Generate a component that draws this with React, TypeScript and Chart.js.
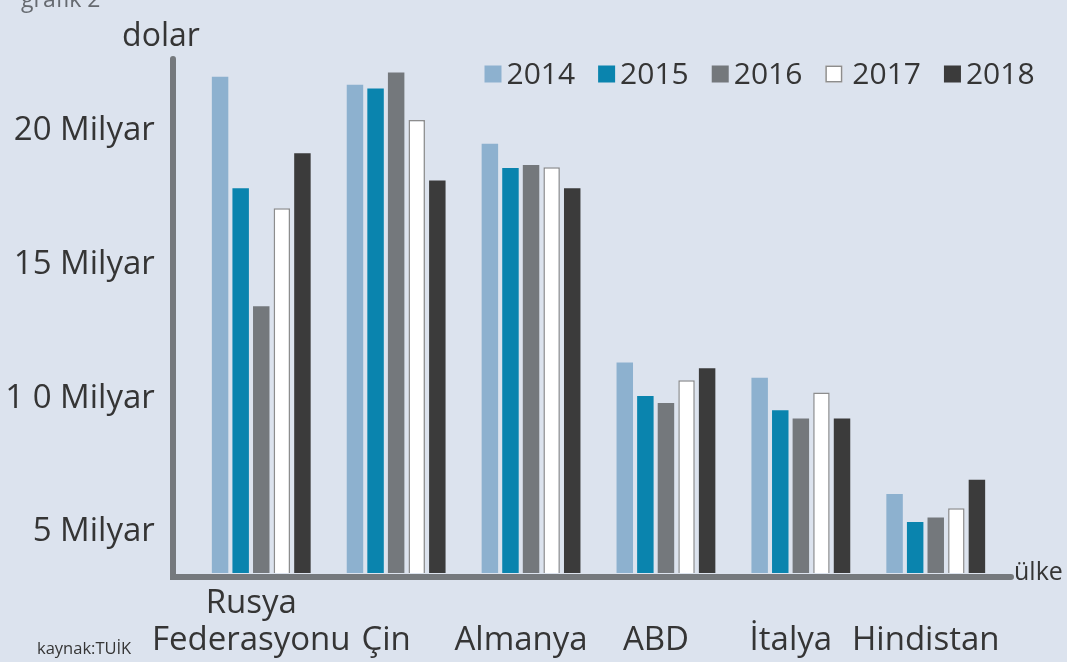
import React, { useEffect, useRef } from "react";
import { Chart, registerables } from "chart.js";

Chart.register(...registerables);

// ---- data ----
const categories: string[][] = [
  ["Rusya", "Federasyonu"],
  ["", "Çin"],
  ["", "Almanya"],
  ["", "ABD"],
  ["", "İtalya"],
  ["", "Hindistan"],
];
const years = ["2014", "2015", "2016", "2017", "2018"];
const values2014 = [22.03, 21.73, 19.52, 11.34, 10.77, 6.42];
const values2015 = [17.86, 21.59, 18.62, 10.09, 9.56, 5.38];
const values2016 = [13.45, 22.19, 18.73, 9.83, 9.25, 5.55];
const values2017 = [17.11, 20.41, 18.64, 10.68, 10.22, 5.89];
const values2018 = [19.17, 18.15, 17.86, 11.13, 9.25, 6.96];
const yTickValues = [5, 10, 15, 20];
const yTickLabels = ["5 Milyar", "1 0 Milyar", "15 Milyar", "20 Milyar"];
const yAxisTitle = "dolar";
const xAxisTitle = "ülke";
const chartCaption = "grafik 2";
const sourceNote = "kaynak:TUİK";

// ---- styles ----
const seriesValues = [values2014, values2015, values2016, values2017, values2018];
const seriesColors = ["#8db1cf", "#0a84ae", "#74787c", "#ffffff", "#3b3b3b"];
const seriesBorders = ["#8db1cf", "#0a84ae", "#74787c", "#8d8d8d", "#3b3b3b"];
const seriesBorderWidths = [0, 0, 0, 1.5, 0];
const BG = "#dce3ee";
const AXIS = "#75797d";
const TEXT = "#353535";
const FONT = "'Open Sans', sans-serif";

const decor = {
  id: "decor",
  beforeDraw(chart: any) {
    const { ctx, width, height } = chart;
    ctx.save();
    ctx.fillStyle = BG;
    ctx.fillRect(0, 0, width, height);
    ctx.restore();
  },
  afterDatasetsDraw(chart: any) {
    const { ctx } = chart;
    ctx.save();
    ctx.strokeStyle = AXIS;
    ctx.lineWidth = 6;
    ctx.lineCap = "round";
    ctx.beginPath();
    ctx.moveTo(173, 59);
    ctx.lineTo(173, 577);
    ctx.lineTo(1011, 577);
    ctx.stroke();
    ctx.restore();
  },
  afterDraw(chart: any) {
    const { ctx } = chart;
    ctx.save();
    ctx.textBaseline = "alphabetic";
    // caption (cut at top)
    ctx.fillStyle = "#666a70";
    ctx.font = `23px ${FONT}`;
    ctx.textAlign = "left";
    ctx.fillText(chartCaption, 21, 7);
    // y title
    ctx.fillStyle = TEXT;
    ctx.font = `32px ${FONT}`;
    ctx.textAlign = "center";
    ctx.fillText(yAxisTitle, 161, 46);
    // x title
    ctx.font = `25px ${FONT}`;
    ctx.textAlign = "left";
    ctx.fillText(xAxisTitle, 1014, 580);
    // source
    ctx.font = `16.5px ${FONT}`;
    ctx.fillText(sourceNote, 37, 654);
    // legend
    ctx.font = `30px ${FONT}`;
    ctx.textBaseline = "middle";
    let x = 484.5;
    const cy = 74;
    const sq = 17;
    chart.data.datasets.forEach((ds: any, i: number) => {
      ctx.fillStyle = seriesColors[i];
      ctx.fillRect(x, cy - sq / 2, sq, sq);
      if (seriesBorderWidths[i] > 0) {
        ctx.strokeStyle = seriesBorders[i];
        ctx.lineWidth = 1.5;
        ctx.strokeRect(x + 0.75, cy - sq / 2 + 0.75, sq - 1.5, sq - 1.5);
      }
      const tx = x + sq + (seriesBorderWidths[i] > 0 ? 10 : 5);
      ctx.fillStyle = TEXT;
      ctx.fillText(ds.label, tx, cy + 1);
      x = tx + ctx.measureText(ds.label).width + 23;
    });
    ctx.restore();
  },
};

export default function App() {
  const ref = useRef<HTMLCanvasElement | null>(null);
  useEffect(() => {
    if (!ref.current) return;
    const chart = new Chart(ref.current, {
      type: "bar",
      data: {
        labels: categories as any,
        datasets: years.map((y, i) => ({
          label: y,
          data: seriesValues[i],
          backgroundColor: seriesColors[i],
          borderColor: seriesBorders[i],
          borderWidth: seriesBorderWidths[i],
          borderSkipped: "bottom",
          categoryPercentage: 0.763,
          barPercentage: 0.8,
        })),
      },
      options: {
        responsive: false,
        animation: false,
        events: [],
        layout: { padding: { top: 58, right: 63.8, left: 0, bottom: 0 } },
        plugins: { legend: { display: false }, tooltip: { enabled: false } },
        scales: {
          x: {
            grid: { display: false, drawTicks: false },
            border: { display: false },
            ticks: {
              font: { family: FONT, size: 33, lineHeight: 1.12 },
              color: TEXT,
              padding: 12,
              labelOffset: -10,
              maxRotation: 0,
              minRotation: 0,
              autoSkip: false,
            },
            afterFit: (s: any) => {
              s.height = 89;
            },
          },
          y: {
            min: 3.47,
            max: 22.7,
            grid: { display: false, drawTicks: false },
            border: { display: false },
            afterBuildTicks: (s: any) => {
              s.ticks = yTickValues.map((v) => ({ value: v }));
            },
            ticks: {
              font: { family: FONT, size: 33 },
              color: TEXT,
              padding: 39,
              callback: (v: any) => {
                const i = yTickValues.indexOf(Number(v));
                return i >= 0 ? yTickLabels[i] : "";
              },
            },
            afterFit: (s: any) => {
              s.width = 193.8;
            },
          },
        },
      } as any,
      plugins: [decor],
    });
    return () => chart.destroy();
  }, []);
  return (
    <div style={{ position: "fixed", left: 0, top: 0, width: 1067, height: 662, background: BG }}>
      <canvas ref={ref} width={1067} height={662} style={{ display: "block", width: 1067, height: 662 }} />
    </div>
  );
}
